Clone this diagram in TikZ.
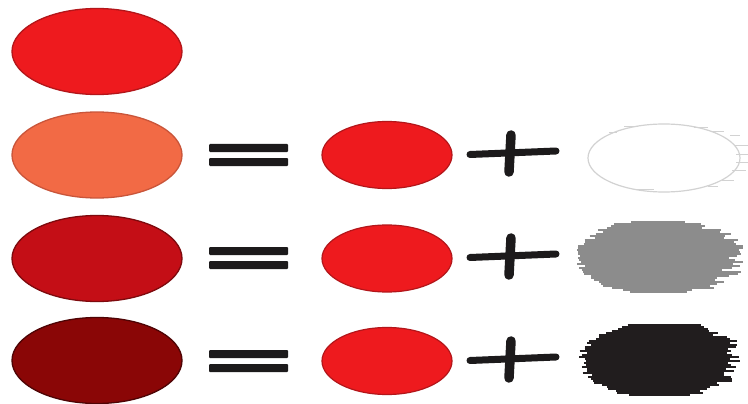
\documentclass[tikz,border=0pt]{standalone}
\usetikzlibrary{shapes.geometric,calc}
\definecolor{redA}{HTML}{EE1A1E}
\definecolor{redAedge}{HTML}{B3161A}
\definecolor{coral}{HTML}{F26A45}
\definecolor{coraledge}{HTML}{C9553A}
\definecolor{redC}{HTML}{C40E16}
\definecolor{redCedge}{HTML}{7E0A0E}
\definecolor{redD}{HTML}{8A0606}
\definecolor{redDedge}{HTML}{4E0405}
\definecolor{ink}{HTML}{1C1A1B}
\definecolor{greyblob}{HTML}{8C8C8C}
\definecolor{blackblob}{HTML}{211D1E}
\definecolor{pale}{HTML}{D2D2D2}
\tikzset{
  bigblob/.style={ellipse, minimum width=170pt, minimum height=86pt, inner sep=0pt, line width=1.3pt},
  midblob/.style={ellipse, minimum width=130pt, minimum height=67pt, inner sep=0pt, line width=1.2pt, fill=redA, draw=redAedge},
  eqbar/.style={fill=ink, rounded corners=1pt},
  plusstroke/.style={draw=ink, line cap=round},
}
\begin{document}
\begin{tikzpicture}[x=1pt,y=-1pt]
\useasboundingbox (0,0) rectangle (748,404);
\fill[white] (0,0) rectangle (748,404);
% left ellipses
\node[bigblob, fill=redA, draw=redAedge] (L1) at (97,51.5) {};
\node[bigblob, fill=coral, draw=coraledge] (L2) at (97,155) {};
\node[bigblob, fill=redC, draw=redCedge] (L3) at (97,258.5) {};
\node[bigblob, fill=redD, draw=redDedge] (L4) at (97,360.5) {};
% equals signs
\foreach \yc in {155,258,361}{
  \fill[eqbar] (209,\yc-11) rectangle (288,\yc-3);
  \fill[eqbar] (209,\yc+3) rectangle (288,\yc+11);
}
% middle ellipses
\node[midblob] (M2) at (387,155) {};
\node[midblob] (M3) at (387,258.5) {};
\node[midblob] (M4) at (387,361) {};
% plus signs
\foreach \yc in {153,256,359}{
  \draw[plusstroke, line width=7pt] (470,\yc+1.5) -- (556,\yc-2);
  \draw[plusstroke, line width=9.5pt] (511,\yc-18) -- (509,\yc+19);
}
% white (outline) blob
\coordinate (W) at (664,158);
\draw[pale, line width=1.2pt] (W) ellipse (76pt and 34pt);
\foreach \dy/\x/\l in {-30/30/14,-26/48/12,-22/66/10,-12/70/14,-4/72/16,4/72/12,12/68/14,22/58/12,28/44/10,31/-30/20,-31/-40/14,-25/-55/8}{
  \draw[pale, line width=1pt] ($(W)+(\x,\dy)$) -- ++(\l,0);
}
% grey blob
\coordinate (G) at (655,257);
\fill[greyblob] (G) ellipse (70pt and 32pt);
\pgfmathsetseed{3}
\foreach \dy in {-35,-33,...,35}{
  \pgfmathsetmacro{\w}{70*sqrt(max(0,1-(\dy/37)^2))}
  \pgfmathsetmacro{\el}{rnd*10}
  \pgfmathsetmacro{\er}{rnd*22}
  \draw[greyblob, line width=2pt] ($(G)+(-\w-\el,\dy)$) -- ($(G)+(\w+\er,\dy)$);
}
% black blob
\coordinate (B) at (657,360);
\fill[blackblob] (B) ellipse (70pt and 32pt);
\pgfmathsetseed{11}
\foreach \dy in {-35,-33,...,35}{
  \pgfmathsetmacro{\w}{70*sqrt(max(0,1-(\dy/37)^2))}
  \pgfmathsetmacro{\el}{rnd*10}
  \pgfmathsetmacro{\er}{rnd*22}
  \draw[blackblob, line width=2pt] ($(B)+(-\w-\el,\dy)$) -- ($(B)+(\w+\er,\dy)$);
}
\end{tikzpicture}
\end{document}
